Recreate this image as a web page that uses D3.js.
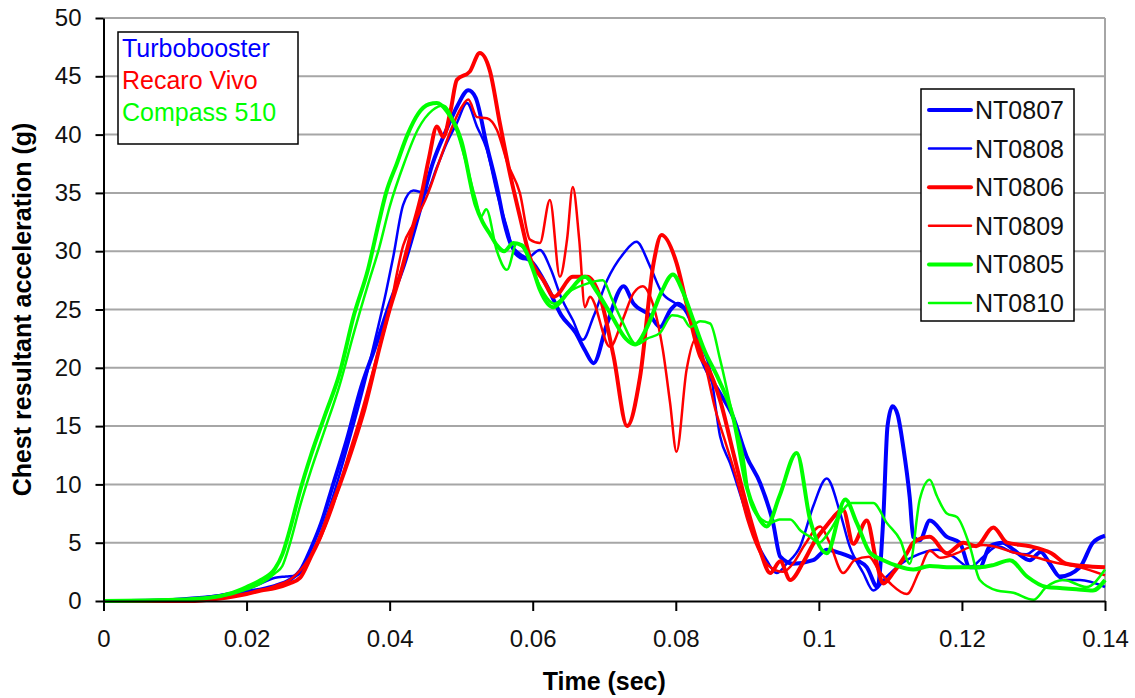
<!DOCTYPE html>
<html>
<head>
<meta charset="utf-8">
<script src="https://cdn.jsdelivr.net/npm/d3@7/dist/d3.min.js"></script>
<style>
  body { margin: 0; background: #fff; }
  svg { display: block; font-family: "Liberation Sans", Arial, sans-serif; }
</style>
</head>
<body>
<svg id="chart" width="1135" height="698"></svg>
<script>
// time in ms, value in g
const nt0807 = [[0,0],[8,0.05],[12,0.2],[16,0.4],[20,0.8],[22,1.0],[24,1.3],[26,1.8],[27.5,2.6],[29,4.5],[30.5,6.8],[32,9.8],[34,13.8],[36,18.3],[38,21.8],[40,25.5],[42,28.8],[44,33],[46,37.5],[48,40.5],[49.5,42.5],[51,43.8],[52,43.2],[53.6,39],[55,35.5],[56,32.5],[57,30.5],[58,29.8],[60,29],[62,27],[64,24.5],[66,23],[67.3,21.5],[68.5,20.4],[70.4,23.8],[72.7,27],[74.1,25.5],[76.4,24.5],[77.8,23.5],[79.3,25],[80.3,25.5],[82,24.2],[83.8,20.5],[85,19],[86.2,17.8],[88,15.8],[89.9,12.4],[91.8,10.1],[93.6,6.7],[94.6,3.8],[96.4,3.2],[99.2,3.5],[101.1,4.4],[103,4.1],[105.3,3.5],[106.7,2.9],[108.2,1.2],[109,7],[109.6,15],[110.3,16.7],[111,16],[111.8,13.2],[112.7,8.9],[113.2,5.5],[114.1,5.2],[115.5,6.9],[117.9,5.5],[119.7,5],[121.1,2.9],[122.5,2.9],[123.9,4.7],[125.7,5],[127.2,4.4],[129.5,3.5],[131,4.2],[132.3,3.2],[133.7,2.1],[136.5,2.9],[138.3,5],[140,5.6]];
const nt0808 = [[0,0],[10,0.1],[14,0.3],[18,0.7],[20,1],[22,1.5],[24,2],[25.5,2.1],[27,2.2],[28,2.8],[30,5.2],[32,8.8],[34,13],[36,17.5],[38,22.5],[39.5,26.5],[40.5,29.5],[41.9,34],[43.3,35.2],[45,35],[46.6,37.2],[48,39.3],[49.4,41],[50.8,42.7],[52.2,40.7],[53.6,38.7],[55,35],[56.4,32],[57.5,29.8],[59,29.3],[61,30.1],[62.5,28.5],[64,26],[65.6,24.1],[67,22.4],[68.5,24.4],[70.4,27.5],[72.7,29.8],[74.5,30.8],[76.4,28.7],[78,26.5],[80,25.5],[82,24.5],[83.5,22],[84.8,19.8],[86.2,14.1],[87.6,11.8],[89.4,8.4],[90.8,5.8],[92.7,3.5],[94.1,2.4],[95.5,3.2],[97.4,4.7],[99.2,8.1],[101.1,10.5],[103,7.5],[104.3,4.7],[106.2,2.4],[107.6,0.9],[109.5,2.1],[111.5,3.2],[113.2,3.8],[116.5,4.4],[118.8,3.8],[121.1,2.9],[123,3.8],[125,4.7],[127,4.2],[129,4],[130.5,4.5],[131.3,4.1],[132.5,2.9],[134.2,1.8],[136.5,1.8],[140,1.2]];
const nt0806 = [[0,0],[12,0],[16,0.2],[20,0.6],[22,0.9],[24,1.1],[26,1.5],[27.5,2],[29,3.8],[30.3,5.5],[31.5,7.5],[33.1,10.1],[35,13.5],[36.5,16.5],[38.7,22],[40,25],[41.5,28],[43,31.5],[44.5,35],[45.5,38],[46.6,40.7],[47.5,39.8],[48.5,42],[49.4,44.7],[51.2,45.4],[52.6,47],[54,45.5],[55.4,41],[56.8,36.7],[58.2,33],[59.6,29.5],[61.5,27.5],[63,26.1],[65.6,27.8],[67.6,27.8],[69.4,26.1],[71.3,21],[73.2,15],[75,19.2],[76.9,29],[78,31.4],[80.1,29],[81.5,25.5],[83.4,21],[84.5,20],[86.2,17.2],[88,12.8],[89.9,8.2],[91.8,4.3],[93.2,2.4],[94.6,3.4],[96,1.8],[97.8,3.3],[99.5,5.2],[101,6.4],[103.4,7.8],[104.8,4.9],[106.7,6.9],[108.1,3.2],[109,1.5],[110.5,2.5],[112.3,4.1],[113.2,5],[115.5,5.5],[117.9,4.1],[120.2,5],[122,4.7],[124.4,6.3],[126.3,5],[129.5,4.7],[132.5,4.1],[134.6,3.2],[137,3],[140,2.9]];
const nt0809 = [[0,0],[14,0.1],[18,0.4],[22,0.9],[24,1.3],[26,1.8],[28,3],[30,5],[32,8],[34,12],[36,16],[38,20.5],[40,25],[41.9,30.5],[43.5,32.5],[45.2,34.7],[47,37.8],[48.5,40.3],[50,42.3],[51,43],[52.2,41.5],[53.6,41.4],[55,40.4],[56.5,37.5],[58.2,35],[59.6,31],[61,30.7],[62.4,34.4],[63.8,27.8],[64.8,31],[65.6,35.5],[66.5,31],[67.3,25.2],[68,26.1],[70.8,21.8],[72.5,24],[74.1,26.4],[75.4,27],[76.5,26],[78.2,21.5],[79.2,17],[80.1,12.8],[81.5,19.8],[82.8,22.5],[84,20.5],[85.5,16.5],[87,13.5],[88.5,10.5],[90,7],[91.5,4.5],[93,3],[95,2.5],[96.5,3.3],[98,4.8],[100.2,6.4],[101.5,5],[103.4,2.4],[105,3.5],[107,3.8],[108.5,2.5],[110,1.5],[112.3,0.6],[114,2.5],[115.5,4.3],[117,3.7],[119.3,4.1],[121,4.6],[123,4.8],[125,4.6],[127,4.2],[130,3.8],[133,3.3],[136.5,2.9],[140,2.2]];
const nt0805 = [[0,0],[10,0.1],[15,0.3],[18,0.7],[20,1.2],[22,1.8],[24,2.8],[25,4],[26,6],[27.5,9.5],[29,12.5],[31,16],[33,19.5],[35,24.5],[37,28.5],[38.5,32.5],[39.5,35],[41,37.5],[42.5,40],[44,41.8],[45.5,42.6],[46.6,42.7],[48,42],[50,39.5],[52,34],[53,32.5],[54,31.5],[55,30.5],[56,30],[57.3,30.7],[58.5,30.5],[60,28.5],[61,26.7],[62.9,25.2],[65,26.5],[67.3,27.8],[69,26.5],[71,24.5],[73,22.5],[74.3,22],[76,23.5],[78,26.5],[79.6,28],[81,26.5],[82.5,24],[84,21.5],[86,19],[88,15.8],[89.9,9.8],[91.3,7.5],[92.7,6.4],[94.5,9],[96.9,12.7],[98.8,6.9],[101.1,4.1],[103.7,8.7],[105.3,6.7],[107.2,4.1],[109,3.5],[111,3],[113.2,2.7],[115.5,3],[117.9,2.9],[120,2.9],[122.5,2.9],[124.5,3.1],[126.7,3.5],[129.1,2.1],[131.8,1.2],[134,1.1],[136,1],[138.3,0.9],[140,1.8]];
const nt0810 = [[0,0],[10,0.1],[15,0.3],[18,0.6],[20,1],[22,1.5],[24,2.4],[25,3],[26,4.8],[27.5,8.2],[29,11.2],[31,14.8],[33,18.5],[35,23],[37,27.2],[38.5,30.2],[40,33.8],[42,37.5],[44,40.5],[46,42.1],[47.5,42.5],[49,41],[50.5,38],[52,34.5],[52.8,33],[53.5,33.6],[55,30],[56.4,28.4],[57.8,30.7],[59,30],[61,27],[63,25.5],[65,26.5],[67.5,27.2],[69.8,27.5],[71,26],[72.5,24],[74.5,22],[76,22.5],[77.8,23],[79.5,24.5],[81,24.3],[82,23.5],[83.4,24],[84.8,23.8],[86.2,20.7],[88,15.8],[89.4,12.5],[90.4,8.5],[92,7],[93.2,6.7],[94.5,7],[96,7],[97.5,6],[98.8,5.5],[100,5],[101.5,6],[103,7.5],[104.5,8.4],[107.6,8.4],[109.5,6.7],[111.4,5.2],[112.7,3.2],[114.1,8.7],[115.5,10.4],[116.5,9],[117.9,7.5],[119.3,7.2],[121.1,4.7],[122.5,1.8],[124.9,0.9],[127.2,0.7],[130,0.1],[131.8,1.2],[134.2,1.8],[137.4,1.2],[140,2.7]];

const seriesNames = ['NT0807', 'NT0808', 'NT0806', 'NT0809', 'NT0805', 'NT0810'];
const seriesData = [nt0807, nt0808, nt0806, nt0809, nt0805, nt0810];
const seatNames = ['Turbobooster', 'Recaro Vivo', 'Compass 510'];
const xTicks = [0, 0.02, 0.04, 0.06, 0.08, 0.1, 0.12, 0.14];
const yTicks = [0, 5, 10, 15, 20, 25, 30, 35, 40, 45, 50];

// styles per series (same order as seriesNames)
const colors = ['#0000ff', '#0000ff', '#ff0000', '#ff0000', '#00ff00', '#00ff00'];
const widths = [4, 2.5, 4, 2.5, 4, 2.5];
const seatColors = ['#0000ff', '#ff0000', '#00ff00'];

const plotLeft = 103.5, plotRight = 1105, plotTop = 18, plotBottom = 601;
const svg = d3.select('#chart');

const x = d3.scaleLinear().domain([0, 0.14]).range([plotLeft, plotRight]);
const y = d3.scaleLinear().domain([0, 50]).range([plotBottom, plotTop]);

// gridlines
svg.append('g')
  .selectAll('line')
  .data(yTicks.filter(d => d > 0))
  .enter().append('line')
  .attr('x1', plotLeft).attr('x2', plotRight)
  .attr('y1', d => y(d)).attr('y2', d => y(d))
  .attr('stroke', '#a6a6a6')
  .attr('stroke-width', 2);

svg.append('line')
  .attr('x1', plotRight).attr('x2', plotRight)
  .attr('y1', plotTop).attr('y2', plotBottom)
  .attr('stroke', '#a6a6a6')
  .attr('stroke-width', 2);

// lines
const line = d3.line()
  .x(d => x(d[0] / 1000))
  .y(d => y(d[1]))
  .curve(d3.curveMonotoneX);

svg.append('g')
  .selectAll('path')
  .data(seriesData)
  .enter().append('path')
  .attr('d', line)
  .attr('fill', 'none')
  .attr('stroke', (d, i) => colors[i])
  .attr('stroke-width', (d, i) => widths[i])
  .attr('stroke-linejoin', 'round');

// axes
const yAxis = svg.append('g')
  .attr('transform', `translate(${plotLeft},0)`)
  .call(d3.axisLeft(y).tickValues(yTicks).tickSize(8).tickSizeOuter(0).tickPadding(14));
const xAxis = svg.append('g')
  .attr('transform', `translate(0,${plotBottom})`)
  .call(d3.axisBottom(x).tickValues(xTicks).tickSize(10).tickSizeOuter(0).tickPadding(19)
    .tickFormat(d => String(+d.toFixed(2))));

[yAxis, xAxis].forEach(a => {
  a.select('.domain').attr('stroke', '#000').attr('stroke-width', 2);
  a.selectAll('.tick line').attr('stroke', '#000').attr('stroke-width', 2);
  a.selectAll('.tick text')
    .attr('font-family', '"Liberation Sans", Arial, sans-serif')
    .attr('font-size', 24)
    .attr('fill', '#111');
});

// axis titles
svg.append('text')
  .attr('x', (plotLeft + plotRight) / 2).attr('y', 690)
  .attr('text-anchor', 'middle')
  .attr('font-size', 25).attr('font-weight', 'bold')
  .text('Time (sec)');

svg.append('text')
  .attr('transform', `translate(31,${(plotTop + plotBottom) / 2}) rotate(-90)`)
  .attr('text-anchor', 'middle')
  .attr('font-size', 25).attr('font-weight', 'bold')
  .text('Chest resultant acceleration (g)');

// seat legend
const seat = svg.append('g');
seat.append('rect')
  .attr('x', 118).attr('y', 32).attr('width', 180).attr('height', 112)
  .attr('fill', '#fff').attr('stroke', '#000').attr('stroke-width', 1.5);
seat.selectAll('text')
  .data(seatNames)
  .enter().append('text')
  .attr('x', 122).attr('y', (d, i) => 57 + i * 32)
  .attr('font-size', 25)
  .attr('fill', (d, i) => seatColors[i])
  .text(d => d);

// series legend
const leg = svg.append('g');
leg.append('rect')
  .attr('x', 921).attr('y', 89).attr('width', 153).attr('height', 232)
  .attr('fill', '#fff').attr('stroke', '#000').attr('stroke-width', 1.5);
const item = leg.selectAll('g.item')
  .data(seriesNames)
  .enter().append('g')
  .attr('class', 'item')
  .attr('transform', (d, i) => `translate(0,${110 + i * 38.6})`);
item.append('line')
  .attr('x1', 929).attr('x2', 971)
  .attr('stroke', (d, i) => colors[i])
  .attr('stroke-width', (d, i) => widths[i])
  .attr('stroke-linecap', 'round');
item.append('text')
  .attr('x', 975).attr('dy', '0.36em')
  .attr('font-size', 25)
  .attr('fill', '#111')
  .text(d => d);
</script>
</body>
</html>
